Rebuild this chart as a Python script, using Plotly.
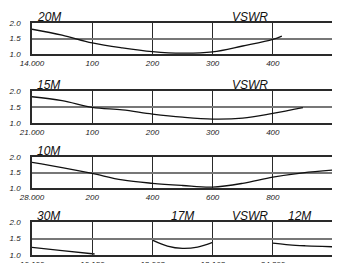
import plotly.graph_objects as go

# ---- data ----
f20 = [14.000, 14.050, 14.100, 14.150, 14.200, 14.250, 14.300, 14.350, 14.400, 14.415]
v20 = [1.80, 1.61, 1.36, 1.20, 1.08, 1.03, 1.07, 1.26, 1.47, 1.58]

f15 = [21.000, 21.050, 21.100, 21.150, 21.200, 21.250, 21.300, 21.350, 21.400, 21.450]
v15 = [1.82, 1.70, 1.49, 1.41, 1.28, 1.18, 1.12, 1.15, 1.30, 1.48]

f10 = [28.0, 28.1, 28.2, 28.3, 28.4, 28.5, 28.6, 28.7, 28.8, 28.9, 29.0]
v10 = [1.83, 1.66, 1.47, 1.26, 1.15, 1.08, 1.03, 1.15, 1.35, 1.49, 1.58]

f30 = [10.100, 10.125, 10.152]
v30 = [1.23, 1.13, 1.03]

f17 = [18.068, 18.093, 18.118, 18.143, 18.168]
v17 = [1.45, 1.27, 1.20, 1.24, 1.38]

f12 = [24.890, 24.920, 24.950, 24.980, 25.000]
v12 = [1.36, 1.31, 1.28, 1.26, 1.25]

ticks20 = ["14.000", "100", "200", "300", "400", "500"]
ticks15 = ["21.000", "100", "200", "300", "400", "500"]
ticks10 = ["28.000", "200", "400", "600", "800", "29.000"]
ticks30 = ["10.100", "10.150"]
ticks17 = ["18.068", "18.168"]
ticks12 = ["24.890", "25.000"]
yticks = [1.0, 1.5, 2.0]

FONT = "Liberation Sans, Arial, sans-serif"
tickfont = dict(family=FONT, size=8, color="#222", style="italic")
LINE = "#2a2a2a"

fig = go.Figure()
line = dict(color="#111", width=1.3, shape="spline")

# empty trace so the framing subplot of the bottom panel exists
fig.add_trace(go.Scatter(x=[None], y=[None], xaxis="x7", yaxis="y4", mode="lines",
                         hoverinfo="skip"))
fig.add_trace(go.Scatter(x=f20, y=v20, xaxis="x", yaxis="y", mode="lines", line=line))
fig.add_trace(go.Scatter(x=f15, y=v15, xaxis="x2", yaxis="y2", mode="lines", line=line))
fig.add_trace(go.Scatter(x=f10, y=v10, xaxis="x3", yaxis="y3", mode="lines", line=line))
fig.add_trace(go.Scatter(x=f30, y=v30, xaxis="x4", yaxis="y4", mode="lines", line=line))
fig.add_trace(go.Scatter(x=f17, y=v17, xaxis="x5", yaxis="y4", mode="lines", line=line))
fig.add_trace(go.Scatter(x=f12, y=v12, xaxis="x6", yaxis="y4", mode="lines", line=line))

ydoms = [[0.866, 1.0], [0.569, 0.707], [0.289, 0.422], [0.0, 0.142]]


def xax(rng, tv, tt, dom=(0, 1), anchor="y", grid=True, line=True):
    return dict(domain=list(dom), range=rng, tickvals=tv, ticktext=tt, anchor=anchor,
                showgrid=grid, gridcolor=LINE, gridwidth=1.2,
                showline=line, linecolor=LINE, linewidth=1.5, mirror=line,
                ticks="outside", ticklen=1, tickcolor="rgba(0,0,0,0)",
                tickfont=tickfont, zeroline=False, automargin=False)


def yax(dom, anchor):
    return dict(domain=dom, range=[1.0, 2.0], tickvals=yticks,
                ticktext=["1.0", "1.5", "2.0"], anchor=anchor,
                showgrid=True, gridcolor="#777", gridwidth=1.6,
                showline=True, linecolor=LINE, linewidth=1.5, mirror=True,
                ticks="outside", ticklen=8, tickcolor="rgba(0,0,0,0)",
                tickfont=tickfont, zeroline=False, automargin=False)


tv20 = [14.0, 14.1, 14.2, 14.3, 14.4, 14.5]
tv15 = [21.0, 21.1, 21.2, 21.3, 21.4, 21.5]
tv10 = [28.0, 28.2, 28.4, 28.6, 28.8, 29.0]

# page body has an 8px margin, so the figure is sized to fill the rest of the window
fig.update_layout(
    width=332, height=255,
    margin=dict(l=24, r=7, t=15, b=8),
    paper_bgcolor="white", plot_bgcolor="rgba(0,0,0,0)",
    showlegend=False,
    xaxis=xax([14.0, 14.5], tv20, ticks20, anchor="y"),
    xaxis2=xax([21.0, 21.5], tv15, ticks15, anchor="y2"),
    xaxis3=xax([28.0, 29.0], tv10, ticks10, anchor="y3"),
    xaxis4=xax([10.100, 10.200], [10.100, 10.150], ticks30, dom=(0, 0.4), anchor="y4", grid=False, line=False),
    xaxis5=xax([18.068, 18.168], [18.068, 18.168], ticks17, dom=(0.4, 0.6), anchor="y4", grid=False, line=False),
    xaxis6=xax([24.890, 25.000], [24.890, 25.000], ticks12, dom=(0.8, 1.0), anchor="y4", grid=False, line=False),
    xaxis7=dict(domain=[0, 1], range=[0, 500], tickvals=[100, 200, 300, 400], anchor="y4",
                showticklabels=False, showgrid=True, gridcolor=LINE, gridwidth=1.2,
                showline=True, linecolor=LINE, linewidth=1.5, mirror=True, ticks="",
                zeroline=False, automargin=False),
    yaxis=yax(ydoms[0], "x"),
    yaxis2=yax(ydoms[1], "x2"),
    yaxis3=yax(ydoms[2], "x3"),
    yaxis4=yax(ydoms[3], "x7"),
)

titlefont = dict(family=FONT, size=12, color="#111", style="italic")
anns = [
    ("20M", 0.0, ydoms[0][1], "left"), ("VSWR", 0.725, ydoms[0][1], "center"),
    ("15M", 0.0, ydoms[1][1], "left"), ("VSWR", 0.725, ydoms[1][1], "center"),
    ("10M", 0.0, ydoms[2][1], "left"),
    ("30M", 0.0, ydoms[3][1], "left"), ("17M", 0.50, ydoms[3][1], "center"),
    ("VSWR", 0.725, ydoms[3][1], "center"), ("12M", 0.89, ydoms[3][1], "center"),
]
for txt, x, y, xa in anns:
    fig.add_annotation(text=txt, x=x, y=y, xref="paper", yref="paper",
                       xanchor=xa, yanchor="bottom", showarrow=False,
                       font=titlefont, xshift=3 if xa == "left" else 0, yshift=-3)

fig.write_html("out.html")
